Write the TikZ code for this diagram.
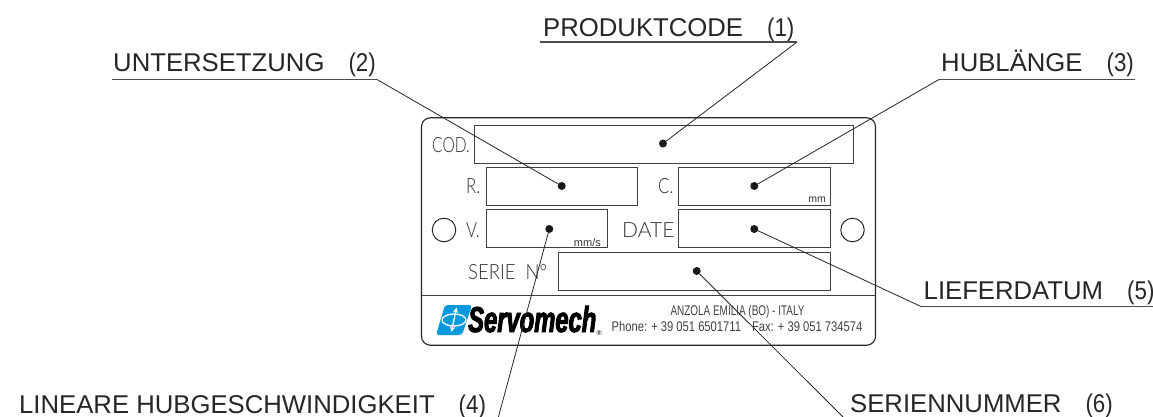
\documentclass[tikz,border=0pt]{standalone}
\usepackage{fontspec}
\setmainfont{Liberation Sans}
\newfontfamily\platefont{Lato Light}
\newfontfamily\platecod[FakeStretch=.74]{Lato Light}
\newfontfamily\plater[FakeStretch=.8]{Lato Light}
\newfontfamily\plateser[FakeStretch=.88]{Lato Light}
\newfontfamily\addrfont[FakeStretch=.71]{Liberation Sans}
\newfontfamily\telfont[FakeStretch=.8]{Liberation Sans}
\newfontfamily\numfont[FakeStretch=.87]{Liberation Sans}
\newfontfamily\logofont[UprightFont=* Bold Italic,FakeStretch=.66,FakeBold=2.5]{Liberation Sans}
\newcommand{\lblnum}[1]{\hspace{24pt}{\numfont #1}}
\definecolor{logoblue}{RGB}{0,153,221}
\definecolor{plategray}{RGB}{50,50,50}
\tikzset{
  lbl/.style={anchor=base west,inner sep=0pt,font=\fontsize{25.7}{28}\selectfont,text=black!85},
  plate/.style={draw=black!85,line width=1.1pt,rounded corners=9pt},
  field/.style={draw=black!75,line width=.95pt,inner sep=0pt,minimum height=38pt},
  lead/.style={draw=black!85,line width=.8pt},
  rule/.style={draw=black!70,line width=1.2pt},
  dotn/.style={circle,fill=black!90,inner sep=0pt,minimum size=8pt},
  ptxt/.style={inner sep=0pt,anchor=base west,text=plategray},
  hole/.style={draw=black!85,line width=1pt,circle,inner sep=0pt,minimum size=23.5pt},
  small/.style={inner sep=0pt,font=\fontsize{10.5}{12}\selectfont,text=black!80},
}
\begin{document}
\begin{tikzpicture}[x=1pt,y=-1pt]
\useasboundingbox (0,0) rectangle (1153,417);
% plate
\node[plate,minimum width=454pt,minimum height=227.5pt,inner sep=0pt] (pl) at (648.5,231.5) {};
\coordinate (dl) at (422,295); \coordinate (dr) at (875,295);
\draw[field] (dl) -- (dr);
% fields
\node[field,minimum width=379pt] (fcod) at (663.5,144) {};
\node[field,minimum width=151pt] (fr) at (561.5,186.5) {};
\node[field,minimum width=152pt] (fc) at (754,186.5) {};
\node[field,minimum width=121pt] (fv) at (546.5,228) {};
\node[field,minimum width=152pt] (fd) at (754,228) {};
\node[field,minimum width=272pt] (fs) at (694,271) {};
\node[hole] (h1) at (444,230) {};
\node[hole] (h2) at (852.5,230) {};
% plate texts
\node[ptxt,font=\platecod\fontsize{21}{24}\selectfont] (tcod) at (432,152) {COD.};
\node[ptxt,font=\plater\fontsize{21}{24}\selectfont] (tr) at (466,193.5) {R.};
\node[ptxt,font=\plater\fontsize{21}{24}\selectfont] (tcc) at (658,193.5) {C.};
\node[ptxt,font=\plater\fontsize{21}{24}\selectfont] (tv) at (466,237) {V.};
\node[ptxt,font=\platefont\fontsize{21}{24}\selectfont] (tdate) at (622,237) {DATE};
\node[ptxt,font=\plateser\fontsize{21}{24}\selectfont] (tser) at (468,279) {SERIE\hspace{10pt}N°};
\node[small,anchor=base east] (tmm) at (826,202) {mm};
\node[small,anchor=base east,font=\fontsize{11}{12}\selectfont] (tmms) at (601,246) {mm/s};
% footer
\node[inner sep=0pt,anchor=base,font=\addrfont\fontsize{14}{16}\selectfont,text=black!75] (addr) at (737.5,315) {ANZOLA EMILIA (BO) - ITALY};
\node[inner sep=0pt,anchor=base,font=\telfont\fontsize{14}{16}\selectfont,text=black!75] (tel) at (737,331) {Phone: + 39 051 6501711\hspace{11pt}Fax: + 39 051 734574};
% logo
\fill[logoblue,rounded corners=3pt] (445,305) -- (472,305) -- (462,335) -- (436,335) -- cycle;
\draw[white,line width=1.3pt] (454,320) ellipse (12pt and 6pt);
\draw[white,line width=1.4pt,<->,>=stealth] (456.5,307.5) -- (451.5,332);
\node[inner sep=0pt,anchor=base west,font=\logofont\fontsize{36}{38}\selectfont,text=black] (logo) at (468,332) {Servomech};
\node[inner sep=0pt,anchor=base west,font=\fontsize{7}{8}\selectfont] (reg) at (596.5,335) {®};
% dots
\node[dotn] (d1) at (663,143.5) {};
\node[dotn] (d2) at (561.7,186) {};
\node[dotn] (d3) at (754.3,186) {};
\node[dotn] (d4) at (549.3,229) {};
\node[dotn] (d5) at (754.3,229) {};
\node[dotn] (d6) at (696.7,271) {};
% labels
\node[lbl] (l1) at (543,37) {PRODUKTCODE\lblnum{(1)}};
\node[lbl] (l2) at (113,72) {UNTERSETZUNG\lblnum{(2)}};
\node[lbl] (l3) at (941,72) {HUBLÄNGE\lblnum{(3)}};
\node[lbl] (l4) at (19,413) {LINEARE HUBGESCHWINDIGKEIT\lblnum{(4)}};
\node[lbl] (l5) at (923.5,299.5) {LIEFERDATUM\lblnum{(5)}};
\node[lbl] (l6) at (850,412) {SERIENNUMMER\lblnum{(6)}};
% leaders
\coordinate (a1) at (540,42); \coordinate (b1) at (797,42);
\coordinate (a2) at (112,79.5); \coordinate (b2) at (377,79.5);
\coordinate (a3) at (939,79.5); \coordinate (b3) at (1135,79.5);
\coordinate (a5) at (921,306.5); \coordinate (b5) at (1153,306.5);
\coordinate (e4) at (498.4,417); \coordinate (e6) at (843,417);
\draw[rule] (a1) -- (b1);
\draw[rule] (a2) -- (b2);
\draw[rule] (a3) -- (b3);
\draw[rule] (a5) -- (b5);
\draw[lead] (b1) -- (d1);
\draw[lead] (b2) -- (d2);
\draw[lead] (a3) -- (d3);
\draw[lead] (a5) -- (d5);
\draw[lead] (e4) -- (d4);
\draw[lead] (e6) -- (d6);
\end{tikzpicture}
\end{document}
